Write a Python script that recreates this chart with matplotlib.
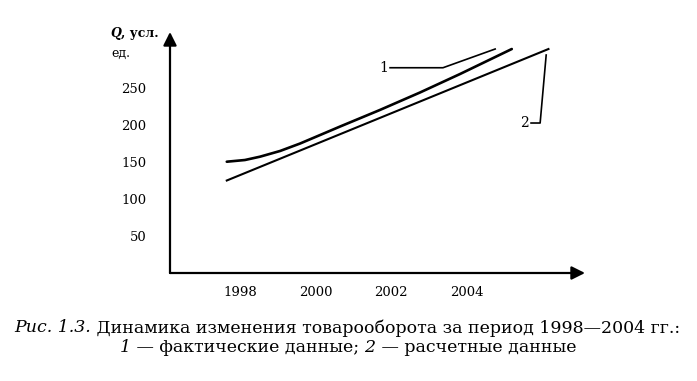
import matplotlib
matplotlib.use('Agg')
import matplotlib.pyplot as plt

plt.rcParams['font.family'] = ['DejaVu Serif', 'Liberation Serif']

# кривая 1 - фактические данные
years_fact = [1997.65, 1998.13, 1998.53, 1999.06, 1999.59, 2000.65, 2001.70, 2002.76, 2003.82, 2005.19]
q_fact = [150.4, 152.7, 157.2, 164.9, 175.0, 198.0, 220.3, 243.9, 268.9, 302.7]

# прямая 2 - расчетные данные
years_calc = [1997.65, 2006.16]
q_calc = [125.0, 302.7]

x_ticks = [1998, 2000, 2002, 2004]
y_ticks = [50, 100, 150, 200, 250]

# выноски
lead1_x = [2001.97, 2003.37, 2004.75]
lead1_y = [277.4, 277.4, 302.7]
lead2_x = [2005.70, 2005.94, 2006.10]
lead2_y = [202.7, 202.7, 294.6]

W, H = 697, 381
fig = plt.figure(figsize=(W / 100, H / 100), dpi=100)
ax = fig.add_axes([170 / W, 108 / H, 415 / W, 241 / H])
ax.set_xlim(1996.148, 2007.127)
ax.set_ylim(0, 325.7)
for s in ax.spines.values():
    s.set_visible(False)

ax.plot(years_fact, q_fact, color='black', lw=1.9, solid_capstyle='round')
ax.plot(years_calc, q_calc, color='black', lw=1.5)
ax.plot(lead1_x, lead1_y, color='black', lw=1.2)
ax.plot(lead2_x, lead2_y, color='black', lw=1.2)
ax.text(lead1_x[0] - 0.05, lead1_y[0], '1', ha='right', va='center', fontsize=10)
ax.text(lead2_x[0] - 0.05, lead2_y[0], '2', ha='right', va='center', fontsize=10)

ax.set_xticks(x_ticks)
ax.set_xticklabels([str(t) for t in x_ticks], fontsize=9.5)
ax.set_yticks(y_ticks)
ax.set_yticklabels([str(t) for t in y_ticks], fontsize=9.5)
ax.tick_params(length=0)
ax.tick_params(axis='y', pad=17)
ax.tick_params(axis='x', pad=9)

arrow = dict(arrowstyle='-|>', lw=1.6, color='black', mutation_scale=20, shrinkA=0, shrinkB=0)
ax.annotate('', xy=(0, 1), xytext=(0, 0), xycoords='axes fraction', arrowprops=arrow)
ax.annotate('', xy=(1, 0), xytext=(0, 0), xycoords='axes fraction', arrowprops=arrow)


def put_line(parts, y, x, size, align='center'):
    # собрать строку из кусков с разным начертанием; x, y - пиксели от левого верхнего угла
    renderer = fig.canvas.get_renderer()
    texts = []
    for s, st, wt in parts:
        t = fig.text(0, 1 - y / H, s, fontsize=size, style=st, weight=wt, va='center', ha='left')
        texts.append(t)
    widths = [t.get_window_extent(renderer).width for t in texts]
    if align == 'center':
        x = x - sum(widths) / 2
    for t, w in zip(texts, widths):
        t.set_x(x / W)
        x += w


put_line([('Q', 'italic', 'bold'), (', усл.', 'normal', 'bold')], 34, 110, 9, align='left')
put_line([('ед.', 'normal', 'normal')], 53, 111, 9, align='left')

put_line([('Рис. 1.3.', 'italic', 'normal'),
          (' Динамика изменения товарооборота за период 1998—2004 гг.:', 'normal', 'normal')],
         328, 347, 12.5)
put_line([('1', 'italic', 'normal'), (' — фактические данные; ', 'normal', 'normal'),
          ('2', 'italic', 'normal'), (' — расчетные данные', 'normal', 'normal')],
         348, 348, 12.5)

fig.savefig('out.png', dpi=100)
